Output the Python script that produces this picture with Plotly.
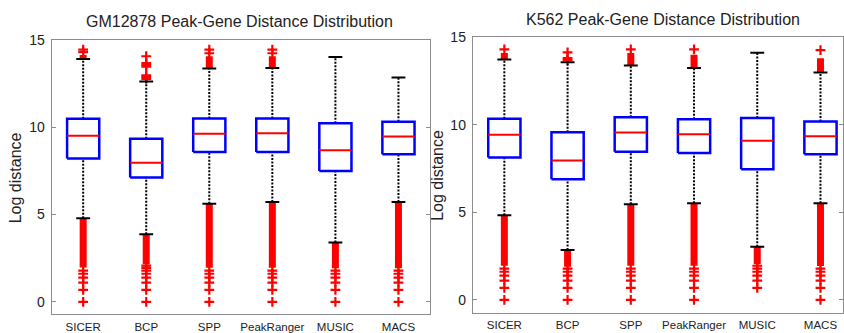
import plotly.graph_objects as go

categories = ["SICER", "BCP", "SPP", "PeakRanger", "MUSIC", "MACS"]

# ---------------- GM12878 ----------------
gm_q1 = [8.20, 7.12, 8.57, 8.57, 7.49, 8.44]
gm_median = [9.50, 7.96, 9.61, 9.65, 8.68, 9.46]
gm_q3 = [10.47, 9.33, 10.49, 10.49, 10.22, 10.30]
gm_lower_whisker = [4.78, 3.87, 5.62, 5.71, 3.40, 5.71]
gm_upper_whisker = [13.89, 12.60, 13.35, 13.37, 14.00, 12.83]
gm_upper_dense_top = [14.12, None, 14.05, 14.05, None, None]
gm_upper_sparse = [[14.28, 14.43], [12.75, 12.85, 12.95, 13.45, 13.55, 13.65, 14.05], [14.22, 14.43],
                   [14.22, 14.43], [], []]
gm_lower_dense_bottom = [1.97, 2.16, 1.95, 1.95, 1.93, 1.93]
gm_lower_sparse = [[0, 0.69, 1.10, 1.39, 1.61, 1.79],
                   [0, 0.69, 1.10, 1.39, 1.61, 1.79, 1.95, 2.08],
                   [0, 0.69, 1.10, 1.39, 1.61, 1.79],
                   [0, 0.69, 1.10, 1.39, 1.61, 1.79],
                   [0, 0.69, 1.10, 1.39, 1.61, 1.79],
                   [0, 0.69, 1.10, 1.39, 1.61, 1.79]]

# ---------------- K562 ----------------
k_q1 = [8.13, 6.89, 8.46, 8.39, 7.46, 8.31]
k_median = [9.43, 7.96, 9.56, 9.46, 9.09, 9.35]
k_q3 = [10.35, 9.57, 10.43, 10.31, 10.39, 10.19]
k_lower_whisker = [4.83, 2.85, 5.46, 5.52, 3.04, 5.52]
k_upper_whisker = [13.72, 13.57, 13.39, 13.24, 14.11, 12.98]
k_upper_dense_top = [14.10, None, 14.10, 14.00, None, 13.80]
k_upper_sparse = [[14.30], [13.70, 13.80, 14.13], [14.30], [14.30], [], [14.26]]
k_lower_dense_bottom = [1.95, 1.89, 1.95, 1.95, 2.04, 1.94]
k_lower_sparse = [[0, 0.69, 1.10, 1.39, 1.61, 1.79],
                  [0, 0.69, 1.10, 1.39, 1.61, 1.79],
                  [0, 0.69, 1.10, 1.39, 1.61, 1.79],
                  [0, 0.69, 1.10, 1.39, 1.61, 1.79],
                  [0.69, 1.10, 1.39, 1.61, 1.79, 1.95],
                  [0, 0.69, 1.10, 1.39, 1.61, 1.79]]

y_tick_vals = [0, 5, 10, 15]
titles = ["GM12878 Peak-Gene Distance Distribution", "K562 Peak-Gene Distance Distribution"]
y_title = "Log distance"

FONT = "Liberation Sans, Arial, sans-serif"
BOX_HW = 0.255
CAP_HW = 0.11
W, H = 844, 333

fig = go.Figure()


def add_panel(xa, ya, q1, med, q3, lo_w, hi_w, up_top, up_sp, lo_bot, lo_sp):
    xs = list(range(1, len(categories) + 1))
    # dense outlier bands
    bx, by = [], []
    for i, x in enumerate(xs):
        bx += [x, x, None]
        by += [lo_bot[i], lo_w[i], None]
        if up_top[i] is not None:
            bx += [x, x, None]
            by += [hi_w[i], up_top[i], None]
    fig.add_trace(go.Scatter(x=bx, y=by, mode="lines", xaxis=xa, yaxis=ya,
                             line=dict(color="#ff0000", width=7), hoverinfo="skip"))
    # sparse outliers
    ox, oy = [], []
    for i, x in enumerate(xs):
        for v in lo_sp[i] + up_sp[i]:
            ox.append(x)
            oy.append(v)
    fig.add_trace(go.Scatter(x=ox, y=oy, mode="markers", xaxis=xa, yaxis=ya,
                             marker=dict(symbol="cross-thin", size=7, color="#ff0000",
                                         line=dict(color="#ff0000", width=2.2))))
    # whiskers
    wx, wy = [], []
    for i, x in enumerate(xs):
        wx += [x, x, None, x, x, None]
        wy += [q3[i], hi_w[i], None, lo_w[i], q1[i], None]
    fig.add_trace(go.Scatter(x=wx, y=wy, mode="lines", xaxis=xa, yaxis=ya,
                             line=dict(color="black", width=2, dash="2px,1.5px")))
    # caps
    cx, cy = [], []
    for i, x in enumerate(xs):
        cx += [x - CAP_HW, x + CAP_HW, None, x - CAP_HW, x + CAP_HW, None]
        cy += [hi_w[i], hi_w[i], None, lo_w[i], lo_w[i], None]
    fig.add_trace(go.Scatter(x=cx, y=cy, mode="lines", xaxis=xa, yaxis=ya,
                             line=dict(color="black", width=2)))
    # boxes
    rx, ry = [], []
    for i, x in enumerate(xs):
        rx += [x - BOX_HW, x + BOX_HW, x + BOX_HW, x - BOX_HW, x - BOX_HW, None]
        ry += [q1[i], q1[i], q3[i], q3[i], q1[i], None]
    fig.add_trace(go.Scatter(x=rx, y=ry, mode="lines", fill="toself", fillcolor="white",
                             xaxis=xa, yaxis=ya, line=dict(color="#0000ff", width=2.5)))
    # medians
    mx, my = [], []
    for i, x in enumerate(xs):
        mx += [x - BOX_HW, x + BOX_HW, None]
        my += [med[i], med[i], None]
    fig.add_trace(go.Scatter(x=mx, y=my, mode="lines", xaxis=xa, yaxis=ya,
                             line=dict(color="#ff0000", width=2)))


add_panel("x", "y", gm_q1, gm_median, gm_q3, gm_lower_whisker, gm_upper_whisker,
          gm_upper_dense_top, gm_upper_sparse, gm_lower_dense_bottom, gm_lower_sparse)
add_panel("x2", "y2", k_q1, k_median, k_q3, k_lower_whisker, k_upper_whisker,
          k_upper_dense_top, k_upper_sparse, k_lower_dense_bottom, k_lower_sparse)

axis_line = "#8c8c8c"
xcommon = dict(tickmode="array", tickvals=list(range(1, len(categories) + 1)), ticktext=categories,
               showline=True, linecolor=axis_line, linewidth=1, mirror=True, ticks="",
               showgrid=False, zeroline=False, tickfont=dict(family=FONT, size=11.5, color="#222"),
               ticklabelstandoff=2)
ycommon = dict(tickmode="array", tickvals=y_tick_vals, showline=True, linecolor=axis_line, linewidth=1,
               mirror="ticks", ticks="inside", ticklen=4, tickcolor=axis_line, range=[-0.72, 15],
               showgrid=False, zeroline=False, tickfont=dict(family=FONT, size=14, color="#222"),
               ticklabelstandoff=3)

fig.update_layout(
    width=W, height=H, margin=dict(l=0, r=0, t=0, b=0),
    paper_bgcolor="white", plot_bgcolor="white", showlegend=False,
    xaxis=dict(xcommon, domain=[51.7 / W, 430.5 / W], range=[0.5, 6.5]),
    yaxis=dict(ycommon, domain=[1 - 315 / H, 1 - 32.5 / H]),
    xaxis2=dict(xcommon, domain=[473.3 / W, 1.0], range=[0.5, 0.5 + (W - 473.3) / 63.3]),
    yaxis2=dict(ycommon, anchor="x2", domain=[1 - 313 / H, 1 - 30 / H]),
)
fig.update_layout(xaxis2_anchor="y2")

ann = [
    dict(text=titles[0], x=240 / W, y=1 - 14 / H),
    dict(text=titles[1], x=663.5 / W, y=1 - 12 / H),
]
for a in ann:
    fig.add_annotation(xref="paper", yref="paper", xanchor="center", yanchor="middle",
                       showarrow=False, font=dict(family=FONT, size=16, color="#222"), **a)
for (xc, yc) in [(15, 174), (438, 172)]:
    fig.add_annotation(xref="paper", yref="paper", x=xc / W, y=1 - yc / H, textangle=-90,
                       xanchor="center", yanchor="middle", showarrow=False, text=y_title,
                       font=dict(family=FONT, size=16, color="#222"))

fig.write_html("out.html", config={"displayModeBar": False},
               post_script="document.body.style.margin='0';document.body.style.padding='0';"
                           "document.body.style.overflow='hidden';")
